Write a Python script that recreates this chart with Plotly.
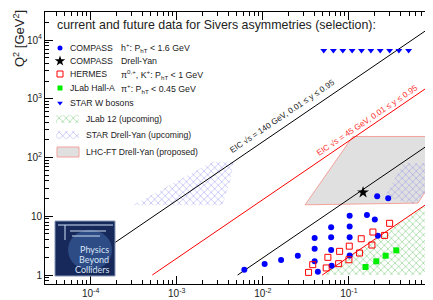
import plotly.graph_objects as go

# ---------------- data ----------------
compass_x = [0.0061, 0.0105, 0.0163, 0.0255, 0.040, 0.040, 0.040, 0.0436, 0.0622, 0.0622,
             0.0622, 0.063, 0.102, 0.102, 0.102, 0.102, 0.162, 0.20, 0.217, 0.213, 0.286]
compass_q2 = [1.23, 1.54, 1.8, 2.13, 4.27, 2.8, 1.71, 1.14, 6.5, 4.4,
              2.67, 1.44, 10.2, 6.7, 4.4, 2.16, 10.5, 8.8, 4.67, 21.9, 20.4]

compass_dy_x = [0.146]
compass_dy_q2 = [25.6]

hermes_x = [0.034, 0.038, 0.0545, 0.057, 0.076, 0.078, 0.100, 0.101, 0.133, 0.139,
            0.185, 0.19, 0.26, 0.297]
hermes_q2 = [1.11, 1.5, 1.32, 2.0, 1.56, 2.53, 1.82, 3.1, 2.37, 4.15,
             3.24, 5.4, 4.73, 7.6]

jlab_x = [0.156, 0.208, 0.267, 0.355]
jlab_q2 = [1.37, 1.71, 2.13, 2.63]

starw_x = [0.051, 0.066, 0.085, 0.109, 0.14, 0.18, 0.231, 0.297, 0.381, 0.494]
starw_q2 = [6700] * 10

# EIC kinematic limits (end points)
eic140_hi_x = [5.37e-5, 0.82]
eic140_hi_q2 = [1.0, 15270]
eic140_lo_x = [0.0051, 0.83]
eic140_lo_q2 = [1.0, 163]
eic45_hi_x = [5.2e-4, 0.83]
eic45_hi_q2 = [1.0, 1597]
eic45_lo_x = [0.049, 0.79]
eic45_lo_q2 = [1.0, 16.0]

# regions
lhc_x = [0.031, 0.111, 1.0, 1.0, 0.634, 0.031]
lhc_q2 = [15.7, 229, 229, 48, 16.8, 15.7]
stardy1_x = [3.1e-4, 2.6e-3, 4.6e-3, 4.2e-3, 3.4e-3, 3.1e-4]
stardy1_q2 = [15.5, 85, 85, 40, 15.5, 15.5]
stardy2_x = [0.27, 0.425, 0.95, 0.95, 0.6, 0.36, 0.27]
stardy2_q2 = [23, 80, 80, 33, 16, 19, 23]
jlab12_x = [0.049, 0.79, 0.88, 0.92, 0.88, 0.8, 0.049]
jlab12_q2 = [1.0, 16.0, 8.0, 4.0, 1.8, 1.0, 1.0]

x_tickvals = [1e-4, 1e-3, 1e-2, 1e-1, 1]
x_ticktext = ["10<sup>-4</sup>", "10<sup>-3</sup>", "10<sup>-2</sup>", "10<sup>-1</sup>", "1"]
y_tickvals = [1, 10, 100, 1000, 10000]
y_ticktext = ["1", "10", "10<sup>2</sup>", "10<sup>3</sup>", "10<sup>4</sup>"]

title_text = "current and future data for Sivers asymmetries (selection):"
leg_names = ["COMPASS", "COMPASS", "HERMES", "JLab Hall-A", "STAR W bosons"]
leg_notes = ["h<sup>+</sup>: P<sub>hT</sub> &lt; 1.6 GeV", "Drell-Yan",
             "π<sup>0,+</sup>, K<sup>+</sup>: P<sub>hT</sub> &lt; 1 GeV",
             "π<sup>+</sup>: P<sub>hT</sub> &lt; 0.45 GeV", ""]
leg_regions = ["JLab 12 (upcoming)", "STAR Drell-Yan (upcoming)", "LHC-FT Drell-Yan (proposed)"]

# ---------------- layout geometry ----------------
W, H = 433, 300
L, R, T, B = 37, 427, 4, 276
FONT = "Liberation Sans, Arial, sans-serif"
TXT = "#222222"


def px(xp):
    return (xp - L) / (R - L)


def py(yp):
    return (B - yp) / (B - T)


fig = go.Figure()

# regions
fig.add_trace(go.Scatter(x=lhc_x, y=lhc_q2, mode="lines", fill="toself",
                         fillcolor="#e0e0e0", line=dict(color="#f4a29a", width=1),
                         hoverinfo="skip", showlegend=False))
hatch_blue = dict(shape="x", fgcolor="rgb(125,125,235)", bgcolor="rgba(255,255,255,0)",
                  size=5, solidity=0.28, fillmode="overlay")
hatch_green = dict(shape="x", fgcolor="rgb(80,185,80)", bgcolor="rgba(255,255,255,0)",
                   size=5, solidity=0.3, fillmode="overlay")
for xs, ys in [(stardy1_x, stardy1_q2), (stardy2_x, stardy2_q2)]:
    fig.add_trace(go.Scatter(x=xs, y=ys, mode="lines", fill="toself",
                             fillcolor="rgba(0,0,0,0)", fillpattern=hatch_blue,
                             line=dict(width=0, color="rgba(0,0,0,0)"),
                             hoverinfo="skip", showlegend=False))
fig.add_trace(go.Scatter(x=jlab12_x, y=jlab12_q2, mode="lines", fill="toself",
                         fillcolor="rgba(0,0,0,0)", fillpattern=hatch_green,
                         line=dict(width=0, color="rgba(0,0,0,0)"),
                         hoverinfo="skip", showlegend=False))

# EIC lines
for xs, ys, c in [(eic140_hi_x, eic140_hi_q2, "black"), (eic140_lo_x, eic140_lo_q2, "black"),
                  (eic45_hi_x, eic45_hi_q2, "#ff0000"), (eic45_lo_x, eic45_lo_q2, "#ff0000")]:
    fig.add_trace(go.Scatter(x=xs, y=ys, mode="lines", line=dict(color=c, width=1),
                             hoverinfo="skip", showlegend=False))

# data points
fig.add_trace(go.Scatter(x=compass_x, y=compass_q2, mode="markers",
                         marker=dict(symbol="circle", size=6, color="#0000ff"), showlegend=False))
fig.add_trace(go.Scatter(x=hermes_x, y=hermes_q2, mode="markers",
                         marker=dict(symbol="square-open", size=6, color="#ff0000",
                                     line=dict(width=1)), showlegend=False))
fig.add_trace(go.Scatter(x=jlab_x, y=jlab_q2, mode="markers",
                         marker=dict(symbol="square", size=6, color="#00ee00"), showlegend=False))
fig.add_trace(go.Scatter(x=starw_x, y=starw_q2, mode="markers",
                         marker=dict(symbol="triangle-down", size=6, color="#0000ff"), showlegend=False))
fig.add_trace(go.Scatter(x=compass_dy_x, y=compass_dy_q2, mode="markers",
                         marker=dict(symbol="star", size=9, color="black"), showlegend=False))

# legend symbols on a pixel overlay axis
leg_y = [40, 53, 66, 80, 95]
leg_sym = [("circle", "#0000ff", 5), ("star", "black", 8), ("square-open", "#ff0000", 6),
           ("square", "#00ee00", 5), ("triangle-down", "#0000ff", 5)]
for (sym, col, sz), yy in zip(leg_sym, leg_y):
    fig.add_trace(go.Scatter(x=[52], y=[yy], xaxis="x2", yaxis="y2", mode="markers",
                             marker=dict(symbol=sym, size=sz, color=col,
                                         line=dict(width=1) if "open" in sym else None),
                             showlegend=False, hoverinfo="skip"))
for (yy, pat) in [(111, hatch_green), (127, hatch_blue)]:
    fig.add_trace(go.Scatter(x=[48, 71, 71, 48, 48], y=[yy - 4, yy - 4, yy + 4, yy + 4, yy - 4],
                             xaxis="x2", yaxis="y2", mode="lines", fill="toself",
                             fillcolor="rgba(0,0,0,0)", fillpattern=pat,
                             line=dict(width=0, color="rgba(0,0,0,0)"),
                             showlegend=False, hoverinfo="skip"))
fig.add_trace(go.Scatter(x=[49, 71, 71, 49, 49], y=[139, 139, 149, 149, 139],
                         xaxis="x2", yaxis="y2", mode="lines", fill="toself",
                         fillcolor="#e0e0e0", line=dict(width=1, color="#f4a29a"),
                         showlegend=False, hoverinfo="skip"))

ann = []
ann.append(dict(text=title_text, x=px(47), y=py(17), xanchor="left", yanchor="middle",
                font=dict(size=12.4, color=TXT)))
for n, note, yy in zip(leg_names, leg_notes, leg_y):
    ann.append(dict(text=n, x=px(60), y=py(yy), xanchor="left", yanchor="middle",
                    font=dict(size=8.7, color=TXT)))
    if note:
        ann.append(dict(text=note, x=px(111), y=py(yy), xanchor="left", yanchor="middle",
                        font=dict(size=8.8, color=TXT)))
for n, yy in zip(leg_regions, [111, 127, 144]):
    ann.append(dict(text=n, x=px(76), y=py(yy), xanchor="left", yanchor="middle",
                    font=dict(size=8.6, color=TXT)))
# EIC labels
ann.append(dict(text="EIC √s = 140 GeV, 0.01 ≤ y ≤ 0.95", x=px(274), y=py(108), textangle=-34,
                xanchor="center", yanchor="middle", font=dict(size=8.2, color="#222222")))
ann.append(dict(text="EIC √s = 45 GeV, 0.01 ≤ y ≤ 0.95", x=px(359), y=py(112), textangle=-34,
                xanchor="center", yanchor="middle", font=dict(size=8.2, color="#ff3030")))
# axis titles
ann.append(dict(text="Q<sup>2</sup> [GeV<sup>2</sup>]", x=px(11), y=py(31), textangle=-90,
                xanchor="center", yanchor="middle", font=dict(size=13, color=TXT)))
ann.append(dict(text="x", x=px(421), y=py(290), xanchor="center", yanchor="middle",
                font=dict(size=12, color=TXT)))
# logo text
for t, yy in zip(["Physics", "Beyond", "Colliders"], [241, 251, 261]):
    ann.append(dict(text=t, x=px(103), y=py(yy), xanchor="right", yanchor="middle",
                    font=dict(size=9, color="#d6e4f7", family="Lato, sans-serif")))
for a in ann:
    a.update(xref="paper", yref="paper", showarrow=False)

shapes = [
    dict(type="rect", x0=px(47), x1=px(107), y0=py(268), y1=py(213),
         fillcolor="#16295a", line=dict(color="#8a9ab8", width=1)),
    dict(type="circle", x0=px(60), x1=px(104), y0=py(262), y1=py(222),
         fillcolor="rgba(90,140,215,0.35)", line=dict(width=0)),
    dict(type="line", x0=px(50), x1=px(105), y0=py(217), y1=py(217), line=dict(color="#cfe0f5", width=1)),
    dict(type="line", x0=px(57), x1=px(57), y0=py(217), y1=py(232), line=dict(color="#cfe0f5", width=1)),
    dict(type="line", x0=px(62), x1=px(98), y0=py(223), y1=py(223), line=dict(color="#cfe0f5", width=1)),
    dict(type="line", x0=px(64), x1=px(92), y0=py(228), y1=py(228), line=dict(color="#cfe0f5", width=1)),
]
for s in shapes:
    s.update(xref="paper", yref="paper", layer="above")

minor_x = [m * 10 ** k for k in range(-5, 1) for m in range(2, 10)]
minor_y = [m * 10 ** k for k in range(-1, 5) for m in range(2, 10)]

axis_common = dict(showgrid=False, zeroline=False, showline=True, linecolor="black", linewidth=1,
                   mirror="allticks", ticks="inside", ticklen=8, tickwidth=1, tickcolor="black",
                   automargin=False,
                   tickfont=dict(size=10, color=TXT, family=FONT))

fig.update_layout(
    width=W, height=H,
    margin=dict(l=L, r=W - R, t=T, b=H - B, pad=0, autoexpand=False),
    paper_bgcolor="white", plot_bgcolor="white",
    font=dict(family=FONT, color=TXT),
    showlegend=False,
    xaxis=dict(type="log", range=[-4.53, 0], tickmode="array", tickvals=x_tickvals,
               ticktext=x_ticktext,
               minor=dict(tickmode="array", tickvals=minor_x, ticks="inside", ticklen=4,
                          tickcolor="black", showgrid=False),
               **axis_common),
    yaxis=dict(type="log", range=[-0.153, 4.48], tickmode="array", tickvals=y_tickvals,
               ticktext=y_ticktext,
               minor=dict(tickmode="array", tickvals=minor_y, ticks="inside", ticklen=4,
                          tickcolor="black", showgrid=False),
               **axis_common),
    xaxis2=dict(range=[L, R], overlaying="x", visible=False, anchor="y2"),
    yaxis2=dict(range=[B, T], overlaying="y", visible=False, anchor="x2"),
    annotations=ann,
    shapes=shapes,
)

fig.write_html("out.html")
